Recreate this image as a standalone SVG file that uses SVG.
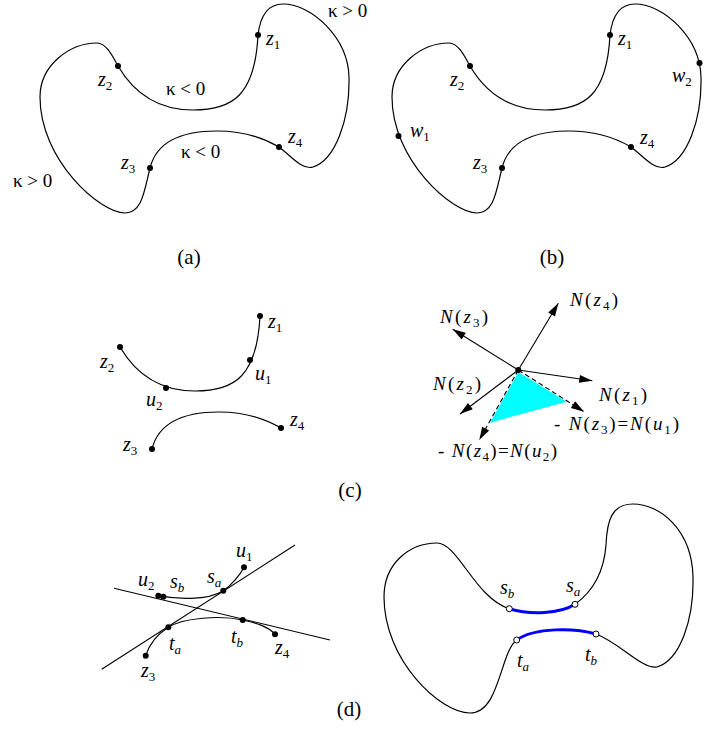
<svg xmlns="http://www.w3.org/2000/svg" xmlns:xlink="http://www.w3.org/1999/xlink" width="715" height="736" viewBox="0 0 715 736" font-family="'Liberation Serif','Times New Roman',serif">
<style>
.c{fill:none;stroke:#000;stroke-width:1.2}
.ln{fill:none;stroke:#000;stroke-width:1.1}
.ds{fill:none;stroke:#000;stroke-width:1.1;stroke-dasharray:5 3}
.blue{fill:none;stroke:#0000ff;stroke-width:3}
.dot{fill:#000}
.odot{fill:#fff;stroke:#000;stroke-width:1}
text{font-family:"Liberation Serif","Times New Roman",serif;font-size:20px;fill:#000}
.k{font-size:19px}
.cap{font-size:21px}
.n{font-size:19px}
.i{font-style:italic}
.s{font-size:13px}
</style>
<defs>
<path id="blob" d="M258,35 C260,18 266,4 283,4 C312,4 348,38 349,77 C350,120 335,160 313,167 C302,170.5 290,155 279,147 C262,137 240,131 217,131 C185,131 157,140 150,168 C144,192 142,213 125,213 C100,213 40,160 40,97 C40,65 70,43 97,43 C106,43 112,55 118,66 C135,95 160,110 193,110 C233,110 255,95 258,35 Z"/>
<marker id="ah" markerUnits="userSpaceOnUse" markerWidth="14" markerHeight="9" refX="13" refY="4" orient="auto" overflow="visible">
<path d="M0,0 L13,4 L0,8 Z" fill="#000" stroke="none"/>
</marker>
</defs>

<g id="panel-a">
<use xlink:href="#blob" class="c"/>
<g id="a-z1"><circle class="dot" cx="258" cy="35" r="3"/><text x="266" y="45"><tspan class="i">z</tspan><tspan class="s" dy="4">1</tspan></text></g>
<g id="a-z2"><circle class="dot" cx="118" cy="66" r="3"/><text x="98" y="86"><tspan class="i">z</tspan><tspan class="s" dy="4">2</tspan></text></g>
<g id="a-z3"><circle class="dot" cx="150" cy="168" r="3"/><text x="121" y="169"><tspan class="i">z</tspan><tspan class="s" dy="4">3</tspan></text></g>
<g id="a-z4"><circle class="dot" cx="279" cy="147" r="3"/><text x="288" y="143"><tspan class="i">z</tspan><tspan class="s" dy="4">4</tspan></text></g>
<text class="k" x="328" y="17" font-size="18">κ &gt; 0</text>
<text class="k" x="166" y="95">κ &lt; 0</text>
<text class="k" x="181" y="158">κ &lt; 0</text>
<text class="k" x="13" y="187">κ &gt; 0</text>
<text class="cap" x="189" y="264" text-anchor="middle">(a)</text>
</g>

<g id="panel-b">
<use xlink:href="#blob" class="c" transform="translate(352,0)"/>
<g id="b-z1"><circle class="dot" cx="610" cy="35" r="3"/><text x="618" y="45"><tspan class="i">z</tspan><tspan class="s" dy="4">1</tspan></text></g>
<g id="b-z2"><circle class="dot" cx="470" cy="66" r="3"/><text x="450" y="86"><tspan class="i">z</tspan><tspan class="s" dy="4">2</tspan></text></g>
<g id="b-z3"><circle class="dot" cx="502" cy="168" r="3"/><text x="473" y="169"><tspan class="i">z</tspan><tspan class="s" dy="4">3</tspan></text></g>
<g id="b-z4"><circle class="dot" cx="631" cy="147" r="3"/><text x="640" y="144"><tspan class="i">z</tspan><tspan class="s" dy="4">4</tspan></text></g>
<g id="b-w1"><circle class="dot" cx="398.5" cy="136" r="3"/><text x="410" y="137"><tspan class="i">w</tspan><tspan class="s" dy="4">1</tspan></text></g>
<g id="b-w2"><circle class="dot" cx="699.5" cy="63" r="3"/><text x="672" y="82"><tspan class="i">w</tspan><tspan class="s" dy="4">2</tspan></text></g>
<text class="cap" x="552" y="264" text-anchor="middle">(b)</text>
</g>

<g id="panel-c-left">
<path class="c" d="M120,347 C137,376 162,391 195,391 C235,391 257,376 260,316"/>
<path class="c" d="M281,428 C264,418 242,412 219,412 C187,412 159,421 152,449"/>
<g id="c-z1"><circle class="dot" cx="260" cy="316" r="3"/><text x="268" y="328"><tspan class="i">z</tspan><tspan class="s" dy="4">1</tspan></text></g>
<g id="c-z2"><circle class="dot" cx="120" cy="347" r="3"/><text x="100" y="368"><tspan class="i">z</tspan><tspan class="s" dy="4">2</tspan></text></g>
<g id="c-u1"><circle class="dot" cx="250" cy="360" r="3"/><text x="255" y="380"><tspan class="i">u</tspan><tspan class="s" dy="4">1</tspan></text></g>
<g id="c-u2"><circle class="dot" cx="166" cy="388" r="3"/><text x="146" y="406"><tspan class="i">u</tspan><tspan class="s" dy="4">2</tspan></text></g>
<g id="c-z3"><circle class="dot" cx="152" cy="449" r="3"/><text x="123" y="451"><tspan class="i">z</tspan><tspan class="s" dy="4">3</tspan></text></g>
<g id="c-z4"><circle class="dot" cx="281" cy="428" r="3"/><text x="290" y="426"><tspan class="i">z</tspan><tspan class="s" dy="4">4</tspan></text></g>
</g>

<g id="panel-c-right">
<polygon points="518.3,372 566.7,401.7 490,422.7" fill="#00ffff"/>
<g id="connectors">
<line class="ln" x1="518.3" y1="370" x2="558.3" y2="303.3" marker-end="url(#ah)"/>
<line class="ln" x1="518.3" y1="370" x2="452.7" y2="329.3" marker-end="url(#ah)"/>
<line class="ln" x1="518.3" y1="370" x2="592.3" y2="380.7" marker-end="url(#ah)"/>
<line class="ln" x1="518.3" y1="370" x2="460" y2="414" marker-end="url(#ah)"/>
<line class="ds" x1="518.3" y1="370" x2="584" y2="411.7" marker-end="url(#ah)"/>
<line class="ds" x1="518.3" y1="370" x2="479.3" y2="440" marker-end="url(#ah)"/>
</g>
<circle class="dot" cx="518.3" cy="370" r="3"/>
<g id="lbl-Nz4"><text class="n" x="570" y="306" textLength="48" lengthAdjust="spacing"><tspan class="i">N</tspan>(<tspan class="i">z</tspan><tspan class="s" dy="4">4</tspan><tspan dy="-4">)</tspan></text></g>
<g id="lbl-Nz3"><text class="n" x="440" y="323" textLength="48" lengthAdjust="spacing"><tspan class="i">N</tspan>(<tspan class="i">z</tspan><tspan class="s" dy="4">3</tspan><tspan dy="-4">)</tspan></text></g>
<g id="lbl-Nz2"><text class="n" x="433" y="390" textLength="48" lengthAdjust="spacing"><tspan class="i">N</tspan>(<tspan class="i">z</tspan><tspan class="s" dy="4">2</tspan><tspan dy="-4">)</tspan></text></g>
<g id="lbl-Nz1"><text class="n" x="599" y="401" textLength="48" lengthAdjust="spacing"><tspan class="i">N</tspan>(<tspan class="i">z</tspan><tspan class="s" dy="4">1</tspan><tspan dy="-4">)</tspan></text></g>
<g id="lbl-Nu1"><text class="n" x="554" y="430" textLength="125" lengthAdjust="spacing">- <tspan class="i">N</tspan>(<tspan class="i">z</tspan><tspan class="s" dy="4">3</tspan><tspan dy="-4">)=</tspan><tspan class="i">N</tspan>(<tspan class="i">u</tspan><tspan class="s" dy="4">1</tspan><tspan dy="-4">)</tspan></text></g>
<g id="lbl-Nu2"><text class="n" x="438" y="457" textLength="119" lengthAdjust="spacing">- <tspan class="i">N</tspan>(<tspan class="i">z</tspan><tspan class="s" dy="4">4</tspan><tspan dy="-4">)=</tspan><tspan class="i">N</tspan>(<tspan class="i">u</tspan><tspan class="s" dy="4">2</tspan><tspan dy="-4">)</tspan></text></g>
</g>
<text class="cap" x="350" y="497" text-anchor="middle">(c)</text>

<g id="panel-d-left">
<line class="ln" x1="101.7" y1="669.3" x2="295" y2="545"/>
<line class="ln" x1="114" y1="588.3" x2="330" y2="640"/>
<path class="c" d="M158.3,595.7 C175,599 207.3,601 223.3,590.7 C231.3,585.6 240,575 244,567.3"/>
<path class="c" d="M145.7,655.7 C150,642 160,632.6 168.3,627.3 C183,617.9 220,615 242.7,620 C255,622.9 268,626 275,634.3"/>
<g id="d-u1"><circle class="dot" cx="244" cy="567.3" r="3"/><text x="236" y="557"><tspan class="i">u</tspan><tspan class="s" dy="4">1</tspan></text></g>
<g id="d-sa"><circle class="dot" cx="223.3" cy="590.7" r="3"/><text x="207" y="583"><tspan class="i">s</tspan><tspan class="s i" dy="4">a</tspan></text></g>
<g id="d-u2"><circle class="dot" cx="158.3" cy="595.7" r="3"/><text x="138" y="586"><tspan class="i">u</tspan><tspan class="s" dy="4">2</tspan></text></g>
<g id="d-sb"><circle class="dot" cx="163.3" cy="596.7" r="3"/><text x="170" y="588"><tspan class="i">s</tspan><tspan class="s i" dy="4">b</tspan></text></g>
<g id="d-ta"><circle class="dot" cx="168.3" cy="627.3" r="3"/><text x="169" y="650"><tspan class="i">t</tspan><tspan class="s i" dy="4">a</tspan></text></g>
<g id="d-tb"><circle class="dot" cx="242.7" cy="620" r="3"/><text x="231" y="643"><tspan class="i">t</tspan><tspan class="s i" dy="4">b</tspan></text></g>
<g id="d-z4"><circle class="dot" cx="275" cy="634.3" r="3"/><text x="275" y="654"><tspan class="i">z</tspan><tspan class="s" dy="4">4</tspan></text></g>
<g id="d-z3"><circle class="dot" cx="145.7" cy="655.7" r="3"/><text x="141" y="677"><tspan class="i">z</tspan><tspan class="s" dy="4">3</tspan></text></g>
</g>

<g id="panel-d-right">
<path class="c" d="M575,604.3 C592,592 604,572 606,545 C607,520 612,504 633,504 C660,504 692,530 693,577 C694,620 680,660 657,667 C643,670 620,643 596,634 M516.7,640 C500,652 500,713 470,713 C440,713 384,660 384,597 C384,563 410,543 437,543 C458,543 475,598 509.3,608.7"/>
<path class="blue" d="M509.3,608.7 C530,615 560,614 575,604.3"/>
<path class="blue" d="M596,634 C575,628 535,627 516.7,640"/>
<g id="d-r-sb"><circle class="odot" cx="509.3" cy="608.7" r="3"/><text x="500" y="594"><tspan class="i">s</tspan><tspan class="s i" dy="4">b</tspan></text></g>
<g id="d-r-sa"><circle class="odot" cx="575" cy="604.3" r="3"/><text x="566" y="592"><tspan class="i">s</tspan><tspan class="s i" dy="4">a</tspan></text></g>
<g id="d-r-ta"><circle class="odot" cx="516.7" cy="640" r="3"/><text x="517" y="667"><tspan class="i">t</tspan><tspan class="s i" dy="4">a</tspan></text></g>
<g id="d-r-tb"><circle class="odot" cx="596" cy="634" r="3"/><text x="585" y="661"><tspan class="i">t</tspan><tspan class="s i" dy="4">b</tspan></text></g>
</g>
<text class="cap" x="349" y="716" text-anchor="middle">(d)</text>
</svg>
